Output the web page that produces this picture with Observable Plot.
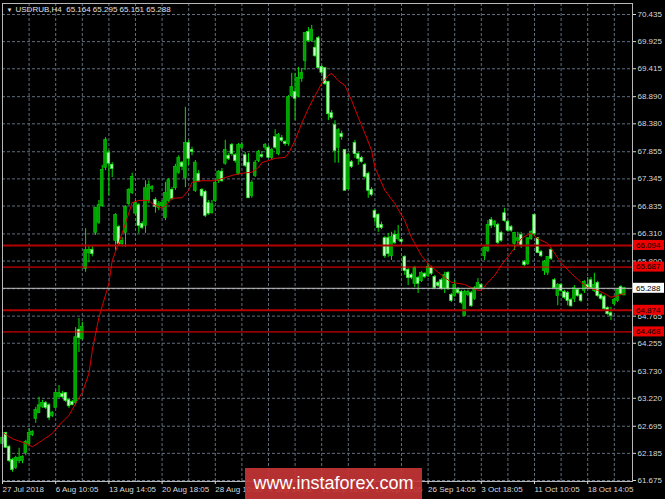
<!DOCTYPE html>
<html><head><meta charset="utf-8">
<script src="https://cdn.jsdelivr.net/npm/d3@7"></script>
<script src="https://cdn.jsdelivr.net/npm/@observablehq/plot@0.6"></script>
<style>
html,body{margin:0;padding:0;background:#000;}
#wrap{position:relative;width:665px;height:499px;overflow:hidden;background:#000;}
#wrap svg{display:block;}
#wm{position:absolute;left:245px;top:468px;width:177px;height:31px;background:rgba(196,52,52,0.92);color:#fff;font:18px "Liberation Sans",Arial,sans-serif;line-height:31px;text-align:center;}
</style></head><body><div id="wrap"><div id="wm">www.instaforex.com</div></div>
<script>
const symbol = "USDRUB,H4";
const openP = [62.37,62.56,62.30,62.05,61.92,62.05,62.05,62.20,62.37,62.54,62.84,62.95,63.07,63.12,63.08,62.90,63.05,63.25,63.29,63.31,63.18,63.14,63.14,64.50,64.34,65.66,65.96,66.00,66.34,66.53,66.84,67.56,67.82,67.60,66.19,66.43,66.13,66.34,66.88,67.09,66.70,66.84,66.49,66.47,66.94,67.16,66.94,66.81,66.84,66.62,66.94,67.13,67.18,67.47,67.64,67.37,68.01,67.88,67.13,67.43,67.13,67.09,66.88,66.71,66.94,67.31,67.47,67.64,67.77,67.97,67.78,67.45,67.94,67.78,67.64,67.03,67.41,67.69,67.78,67.94,67.92,67.75,68.12,67.82,68.10,68.03,68.01,68.91,68.97,68.91,69.23,69.57,70.10,69.95,69.80,69.98,69.44,69.42,69.16,68.57,68.35,67.94,68.18,67.88,67.16,67.65,68.01,67.80,67.73,67.60,67.43,67.13,66.73,66.66,66.47,66.22,66.22,65.90,66.28,66.22,66.19,65.87,65.62,65.53,65.38,65.47,65.43,65.55,65.53,65.66,65.49,65.38,65.43,65.30,65.57,65.15,65.15,65.25,65.21,64.78,65.17,65.19,65.10,65.28,65.34,65.90,66.00,66.56,66.49,66.47,66.32,66.69,66.53,66.43,66.13,66.19,66.28,65.77,65.75,66.22,66.66,66.22,65.96,65.62,65.59,66.00,65.43,65.15,65.34,65.21,65.19,65.06,65.10,65.25,65.15,65.25,65.34,65.43,65.25,65.38,65.15,65.12,64.91,64.81,65.00,65.06,65.30,65.164];
const highP = [62.50,62.58,62.33,62.09,62.13,62.28,62.14,62.43,62.65,62.61,63.05,63.24,63.18,63.16,63.12,62.97,63.37,63.46,63.35,63.33,63.20,63.18,64.55,64.72,64.65,66.41,66.09,66.07,66.81,66.94,67.60,68.12,67.88,67.65,66.69,66.47,66.24,66.84,67.16,67.45,66.94,66.88,66.54,67.31,67.31,67.22,66.99,66.92,66.94,67.28,67.35,67.18,67.62,67.78,67.67,68.69,68.07,67.94,67.69,67.50,67.16,67.13,66.94,66.94,67.31,67.50,67.54,68.07,67.82,68.01,67.82,68.01,68.03,67.84,67.82,67.31,67.69,67.88,67.86,68.01,67.96,67.92,68.27,68.20,68.16,68.07,68.91,69.33,69.33,69.44,69.42,70.08,70.19,70.23,69.95,70.02,69.48,69.42,69.18,68.63,68.44,68.29,68.24,67.88,67.82,67.69,68.07,67.84,67.77,67.64,67.47,67.18,66.77,66.69,66.53,66.26,66.32,66.34,66.37,66.47,66.24,65.90,65.66,65.57,65.70,65.51,65.60,65.58,65.75,65.70,65.53,65.42,65.47,65.59,65.60,65.19,65.43,65.30,65.25,65.25,65.25,65.23,65.32,65.47,65.38,66.09,66.56,66.62,66.56,66.51,66.36,66.79,66.56,66.47,66.34,66.34,66.34,65.81,66.22,66.37,66.66,66.24,66.00,65.81,65.87,66.04,65.47,65.38,65.38,65.25,65.23,65.10,65.34,65.28,65.19,65.43,65.49,65.49,65.57,65.42,65.19,65.15,64.94,64.93,65.10,65.28,65.34,65.295];
const lowP = [62.33,62.28,62.01,61.83,61.88,61.99,61.99,62.14,62.31,62.50,62.75,62.94,63.03,63.01,62.80,62.86,63.03,63.22,63.22,63.14,63.03,63.08,63.10,64.08,64.31,65.59,65.77,65.88,66.28,66.49,66.81,67.50,67.03,67.37,66.00,66.09,66.07,66.06,66.84,67.05,66.66,66.32,66.39,66.32,66.88,67.09,66.70,66.75,66.79,66.56,66.90,66.94,67.13,67.43,67.50,67.18,67.60,67.78,67.09,67.28,66.99,66.62,66.66,66.68,66.90,67.26,67.28,67.60,67.69,67.77,67.64,67.41,67.90,67.56,66.98,66.98,67.37,67.65,67.73,67.88,67.73,67.69,67.90,67.78,68.03,67.96,67.96,68.87,68.44,68.87,69.16,69.38,69.91,69.91,69.63,69.42,69.31,69.10,68.44,68.46,67.64,67.64,68.07,67.13,67.13,67.54,67.73,67.60,67.64,67.35,66.98,67.01,66.51,66.34,66.39,65.85,65.87,65.81,66.11,66.17,66.13,65.53,65.34,65.45,65.30,65.19,65.40,65.47,65.49,65.53,65.27,65.30,65.25,65.19,65.25,65.02,65.12,65.17,64.98,64.76,65.13,64.93,65.06,65.27,65.25,65.81,65.96,66.41,66.43,66.11,66.15,66.53,66.34,66.34,66.00,66.09,66.04,65.70,65.72,66.19,66.28,65.94,65.87,65.53,65.53,65.81,65.28,64.96,65.21,65.08,64.96,64.93,65.02,65.12,65.02,65.19,65.27,65.28,65.21,65.12,65.06,64.87,64.78,64.68,64.96,65.02,65.15,65.151];
const closeP = [62.47,62.30,62.05,61.88,62.09,62.09,62.11,62.39,62.56,62.58,62.99,63.08,63.12,63.05,62.86,62.94,63.31,63.31,63.25,63.18,63.08,63.10,64.36,64.36,64.55,66.00,66.00,65.94,66.79,66.84,67.50,68.07,67.64,67.54,66.66,66.13,66.17,66.81,67.13,67.37,66.88,66.47,66.43,67.16,67.22,67.18,66.83,66.86,66.88,67.07,67.31,66.98,67.56,67.73,67.58,68.01,67.73,67.86,67.64,67.31,67.03,66.66,66.70,66.86,67.26,67.47,67.31,67.88,67.73,67.82,67.69,67.97,67.97,67.60,66.99,67.26,67.64,67.84,67.77,67.97,67.75,67.88,67.94,68.16,68.07,68.01,68.87,69.06,68.86,69.23,69.33,70.08,69.95,70.14,69.66,69.44,69.35,69.14,68.57,68.50,67.88,68.25,68.14,67.13,67.78,67.58,67.82,67.73,67.67,67.39,67.13,67.05,66.62,66.43,66.43,65.90,65.94,66.24,66.15,66.28,66.17,65.62,65.49,65.49,65.66,65.38,65.57,65.51,65.68,65.57,65.30,65.34,65.28,65.53,65.28,65.06,65.34,65.21,65.02,65.21,65.21,64.96,65.28,65.38,65.30,66.04,66.47,66.47,66.53,66.15,66.19,66.56,66.38,66.38,66.32,66.22,66.09,65.73,66.22,66.34,66.32,65.96,65.90,65.77,65.87,65.85,65.30,65.34,65.25,65.12,65.06,64.96,65.28,65.15,65.06,65.40,65.30,65.30,65.34,65.15,65.10,64.91,64.81,64.78,65.06,65.25,65.19,65.288];

// moving average (bar index, value)
const maIdx = [0,3,7,9,12,15,17,20,22,24,26,27,29,32,33,35,37,39,41,44,45,48,49,51,54,56,57,60,64,66,69,72,75,77,78,82,85,86,88,90,92,94,96,98,99,101,103,105,107,109,111,112,115,118,121,123,124,126,128,131,133,135,137,139,141,143,144,146,148,150,153,156,158,159,161,164,165,168,171,174,176,179,181,183,185,187];
const maVal = [62.58,62.46,62.37,62.31,62.43,62.56,62.71,62.90,63.12,63.33,63.69,64.12,64.74,65.38,65.81,66.15,66.51,66.90,66.94,66.94,66.88,66.79,66.84,66.98,66.99,67.13,67.28,67.31,67.31,67.35,67.41,67.45,67.47,67.56,67.65,67.73,67.75,67.82,68.07,68.39,68.67,68.91,69.14,69.29,69.33,69.19,69.10,68.82,68.50,68.20,67.88,67.56,67.13,66.88,66.56,66.24,66.13,65.90,65.75,65.59,65.49,65.40,65.38,65.36,65.30,65.25,65.25,65.40,65.53,65.72,65.96,66.22,66.30,66.32,66.22,66.13,66.04,65.77,65.57,65.40,65.30,65.25,65.19,65.12,65.15,65.19];

const levelVal = [66.094, 65.687, 64.874, 64.468];
const levelColor = ["#b40000", "#ff0000", "#b40000", "#ff0000"];
const levelWidth = [2, 1, 2, 1];
const bidVal = 65.288;

const yTicks = [70.435,69.925,69.415,68.890,68.380,67.855,67.345,66.835,66.310,65.800,65.280,64.765,64.255,63.730,63.220,62.695,62.185,61.675];
const dateLabels = ["27 Jul 2018","6 Aug 10:05","13 Aug 14:05","20 Aug 18:05","28 Aug 10:05","4 Sep 14:05","11 Sep 18:05","19 Sep 10:05","26 Sep 14:05","3 Oct 18:05","11 Oct 10:05","18 Oct 14:05"];
const barsPerLabel = 16;
const barsPerGrid = 8;

const bars = openP.map((o, i) => ({i, open: o, high: highP[i], low: lowP[i], close: closeP[i], up: closeP[i] >= o}));
const ma = maIdx.map((i, k) => ({i, v: maVal[k]}));
const levels = levelVal.map((v, k) => ({v, c: levelColor[k], w: levelWidth[k]}));
const labelIdx = dateLabels.map((d, k) => k * barsPerLabel);
const gridIdx = d3.range(barsPerGrid, bars.length, barsPerGrid);
const last = bars[bars.length - 1];
const header = `${symbol}  ${last.open.toFixed(3)} ${last.high.toFixed(3)} ${last.low.toFixed(3)} ${last.close.toFixed(3)}`;

const FONT = "'Liberation Sans', Arial, sans-serif";
const gridColor = "#5f6e7e";
const chart = Plot.plot({
  width: 665, height: 499,
  marginLeft: 2, marginRight: 33, marginTop: 3, marginBottom: 18,
  style: {background: "#000", color: "#d0d0d0", fontFamily: FONT, fontSize: "8px"},
  x: {type: "linear", domain: [-0.6015, 189.474], range: [0, 632]},
  y: {domain: [61.675, 70.435], range: [480, 14]},
  marks: [
    Plot.gridY(yTicks, {stroke: gridColor, strokeOpacity: 1, strokeDasharray: "3,2"}),
    Plot.gridX(gridIdx, {stroke: gridColor, strokeOpacity: 1, strokeDasharray: "3,2"}),
    Plot.ruleX(bars, {x: "i", y1: "low", y2: "high", stroke: "#00e000", strokeWidth: 1}),
    Plot.rect(bars, {x1: d => d.i - 0.4, x2: d => d.i + 0.4, y1: "open", y2: "close",
      fill: d => d.up ? "#00a000" : "#c8ffc8", stroke: d => d.up ? "#00c800" : "#20f020", strokeWidth: 0.7,
      insetTop: -0.5, insetBottom: -0.5}),
    Plot.line(ma, {x: "i", y: "v", stroke: "#d80000", strokeWidth: 1}),
    Plot.ruleY(levels, {y: "v", stroke: "c", strokeWidth: "w"}),
    Plot.ruleY([bidVal], {stroke: "#c0c0c0", strokeWidth: 1}),
    Plot.frame({stroke: "#b8b8b8"}),
    Plot.axisY(yTicks, {anchor: "right", tickSize: 3, tickPadding: 2, tickFormat: d => d.toFixed(3), label: null, color: "#d8d8d8"}),
    Plot.axisX(labelIdx, {anchor: "bottom", tickSize: 3, tickPadding: 2, textAnchor: "start", dx: 0,
      tickFormat: d => dateLabels[labelIdx.indexOf(d)], label: null, color: "#d8d8d8"}),
    Plot.text([header], {frameAnchor: "top-left", dx: 13, dy: 3, textAnchor: "start", lineAnchor: "top", fill: "#e0e0e0", fontSize: 8}),
    Plot.text(["▼"], {frameAnchor: "top-left", dx: 4, dy: 4, textAnchor: "start", lineAnchor: "top", fill: "#e0e0e0", fontSize: 6})
  ]
});
document.getElementById("wrap").prepend(chart);

// price labels of the horizontal lines, positioned with the plot's own y scale
const yScale = chart.scale("y");
const right = 665 - 33;
const lab = d3.select(chart).append("g").attr("font-family", FONT).attr("font-size", 8).attr("text-anchor", "start");
function priceBox(v, bg, fg) {
  const y = yScale.apply(v);
  lab.append("rect").attr("x", right + 1).attr("y", y - 5).attr("width", 31).attr("height", 10).attr("fill", bg);
  lab.append("text").attr("x", right + 4).attr("y", y).attr("dy", "0.35em").attr("text-anchor", "start").attr("fill", fg).text(v.toFixed(3));
}
levels.forEach(l => priceBox(l.v, "#ee0000", "#000"));
priceBox(bidVal, "#ffffff", "#000");
</script></body></html>
